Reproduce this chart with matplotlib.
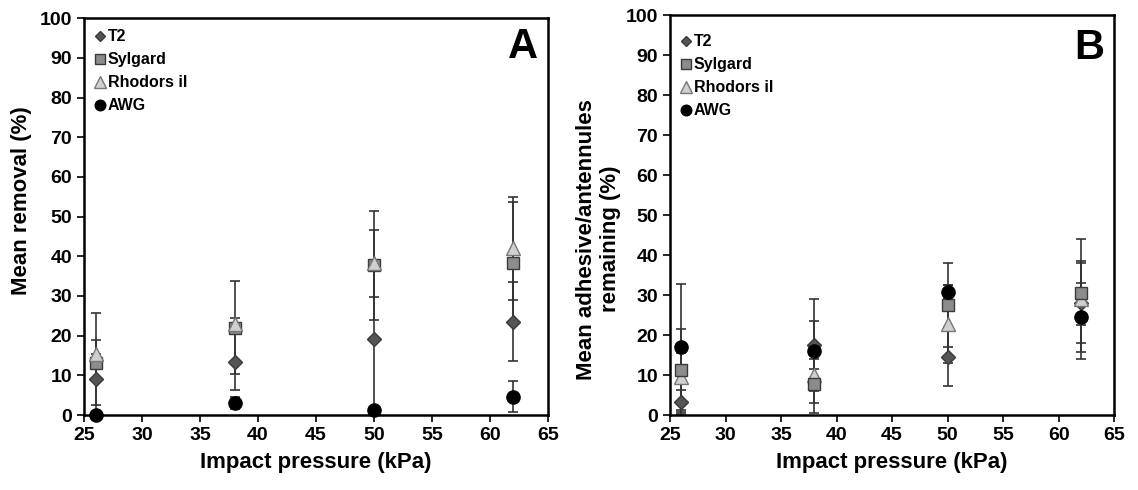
import matplotlib
matplotlib.use('Agg')
from matplotlib import pyplot as plt
from matplotlib import font_manager

# pick a narrow font if it is there
names = set(f.name for f in font_manager.fontManager.ttflist)
if 'Liberation Sans Narrow' in names:
    plt.rcParams['font.family'] = ['Liberation Sans Narrow', 'Liberation Sans', 'DejaVu Sans']
else:
    plt.rcParams['font.family'] = ['Liberation Sans', 'DejaVu Sans']

pressure = [26, 38, 50, 62]
series = ['T2', 'Sylgard', 'Rhodors il', 'AWG']

# panel A: mean removal (%)
removal_T2 = [9, 13.3, 19.2, 23.5]
removal_T2_err = [6.5, 7, 19, 10]
removal_syl = [13, 22, 37.7, 38.3]
removal_syl_err = [12.6, 11.7, 13.8, 15.3]
removal_rho = [15.5, 23, 38.2, 42]
removal_rho_err = [3.5, 1.5, 8.5, 13]
removal_awg = [0, 3, 1.2, 4.6]
removal_awg_err = [0, 1.5, 0.5, 3.9]

# panel B: adhesive/antennules remaining (%)
remain_T2 = [3.2, 17.5, 14.6, 28]
remain_T2_err = [3, 6, 7.3, 10]
remain_syl = [11.2, 7.8, 27.5, 30.4]
remain_syl_err = [10.4, 7.2, 10.6, 8]
remain_rho = [9.4, 10, 22.7, 29]
remain_rho_err = [6, 4, 9.7, 15]
remain_awg = [17, 16, 30.8, 24.4]
remain_awg_err = [15.7, 13, 1.6, 8.7]

styles = [
    dict(marker='D', ms=7, mfc='#555555', mec='#3a3a3a'),
    dict(marker='s', ms=9, mfc='#8c8c8c', mec='#3a3a3a'),
    dict(marker='^', ms=10, mfc='#d0d0d0', mec='#777777'),
    dict(marker='o', ms=9.5, mfc='black', mec='black'),
]

fig = plt.figure(figsize=(11.38, 4.9), dpi=100)
axA = fig.add_axes([0.0738, 0.153, 0.4077, 0.810])
axB = fig.add_axes([0.5888, 0.153, 0.3902, 0.816])

def draw(ax, data, errs, letter, ylabel, leg_y, letter_y, ylab_xy, zorders):
    for vals, err, name, st, z in zip(data, errs, series, styles, zorders):
        ax.errorbar(pressure, vals, yerr=err, fmt='none', ecolor='#333333',
                     elinewidth=1.2, capsize=3.5, capthick=1.2, clip_on=False, zorder=2)
        ax.plot(pressure, vals, ls='none', label=name, clip_on=False, zorder=z,
                mew=1, **st)
    ax.set_xlim(25, 65)
    ax.set_ylim(0, 100)
    ax.set_xticks(range(25, 66, 5))
    ax.set_yticks(range(0, 101, 10))
    ax.tick_params(direction='out', length=5, width=1.2, labelsize=14)
    for lab in ax.get_xticklabels() + ax.get_yticklabels():
        lab.set_fontweight('bold')
    for sp in ax.spines.values():
        sp.set_linewidth(1.8)
    ax.set_xlabel('Impact pressure (kPa)', fontsize=16, fontweight='bold', labelpad=6)
    ax.set_ylabel(ylabel, fontsize=16, fontweight='bold')
    ax.yaxis.set_label_coords(*ylab_xy)
    ax.text(0.978, letter_y, letter, transform=ax.transAxes, fontsize=30,
            fontweight='bold', ha='right', va='center', family='Liberation Sans')
    ax.legend(loc='upper left', bbox_to_anchor=(0.0, leg_y), frameon=False,
              prop=dict(size=11.5, weight='bold'), handlelength=0.6, handletextpad=0.2,
              labelspacing=0.5, borderaxespad=0.3, markerscale=0.8)

draw(axA, [removal_T2, removal_syl, removal_rho, removal_awg],
     [removal_T2_err, removal_syl_err, removal_rho_err, removal_awg_err],
     'A', 'Mean removal (%)', 1.0, 0.927, (-0.112, 0.54), [3, 4, 5, 6])
draw(axB, [remain_T2, remain_syl, remain_rho, remain_awg],
     [remain_T2_err, remain_syl_err, remain_rho_err, remain_awg_err],
     'B', 'Mean adhesive/antennules\nremaining (%)', 0.98, 0.918, (-0.11, 0.44), [3, 5, 4, 6])

fig.savefig('out.png', dpi=100)
